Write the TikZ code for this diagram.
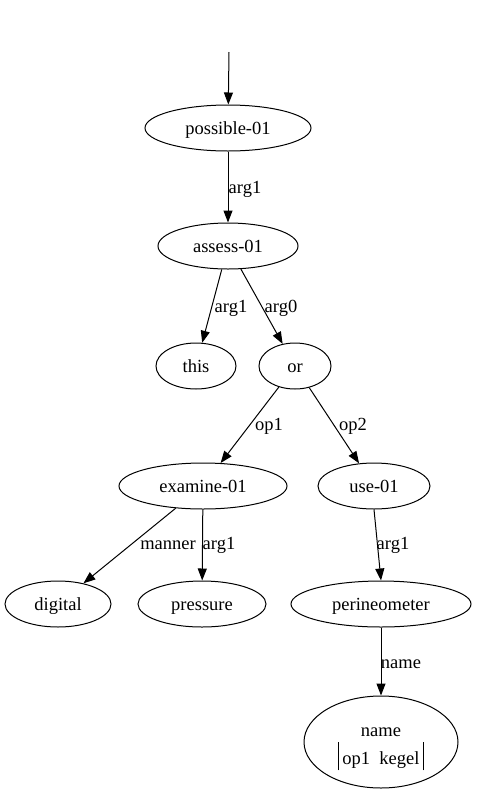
\documentclass[tikz,border=0pt]{standalone}
\usepackage{fontspec}
\setmainfont{Liberation Serif}
\usetikzlibrary{shapes.geometric,arrows.meta}
\begin{document}
\begin{tikzpicture}[x=1pt,y=-1pt,
  every node/.style={font=\fontsize{18.5}{21}\selectfont},
  nd/.style={draw,ellipse,inner sep=0pt,minimum height=46pt,line width=1pt,text height=12pt,text depth=0pt},
  edge/.style={draw,line width=1pt,-{Triangle[length=12pt,width=9pt]}},
  lbl/.style={inner sep=0pt,anchor=base}]
\useasboundingbox (0,0) rectangle (477,793);
\coordinate (start) at (229,52);
\node[nd,minimum width=166pt] (possible) at (228,128) {possible-01};
\node[nd,minimum width=140pt] (assess) at (228,246) {assess-01};
\node[nd,minimum width=80pt] (this) at (196,366) {this};
\node[nd,minimum width=72pt] (or) at (295,366) {or};
\node[nd,minimum width=168pt] (examine) at (203,486) {examine-01};
\node[nd,minimum width=112pt] (use) at (374,486) {use-01};
\node[nd,minimum width=106pt] (digital) at (58,604) {digital};
\node[nd,minimum width=128pt] (pressure) at (202,604) {pressure};
\node[nd,minimum width=180pt] (perineometer) at (381,604) {perineometer};
\node[nd,minimum width=154pt,minimum height=92pt,text height=44pt,text depth=0pt] (name) at (381,742)
  {\begin{tabular}[b]{@{}c@{}}name\\{\setlength{\tabcolsep}{4pt}\begin{tabular}[b]{|c|}\rule[-6pt]{0pt}{27.7pt}op1\enspace kegel\end{tabular}}\end{tabular}};
\draw[edge] (start) -- (possible);
\draw[edge] (possible) -- (assess);
\draw[edge] (assess) -- (this);
\draw[edge] (assess) -- (or);
\draw[edge] (or) -- (examine);
\draw[edge] (or) -- (use);
\draw[edge] (examine) -- (digital);
\draw[edge] (examine) -- (pressure);
\draw[edge] (use.south) -- (perineometer.north);
\draw[edge] (perineometer) -- (name);
\node[lbl] (l1) at (245,193) {arg1};
\node[lbl] (l2) at (231,312) {arg1};
\node[lbl] (l3) at (281,312) {arg0};
\node[lbl] (l4) at (269,430) {op1};
\node[lbl] (l5) at (353,430) {op2};
\node[lbl] (l6) at (168,549) {manner};
\node[lbl] (l7) at (219,549) {arg1};
\node[lbl] (l8) at (393,549) {arg1};
\node[lbl] (l9) at (401,668) {name};
\end{tikzpicture}
\end{document}
